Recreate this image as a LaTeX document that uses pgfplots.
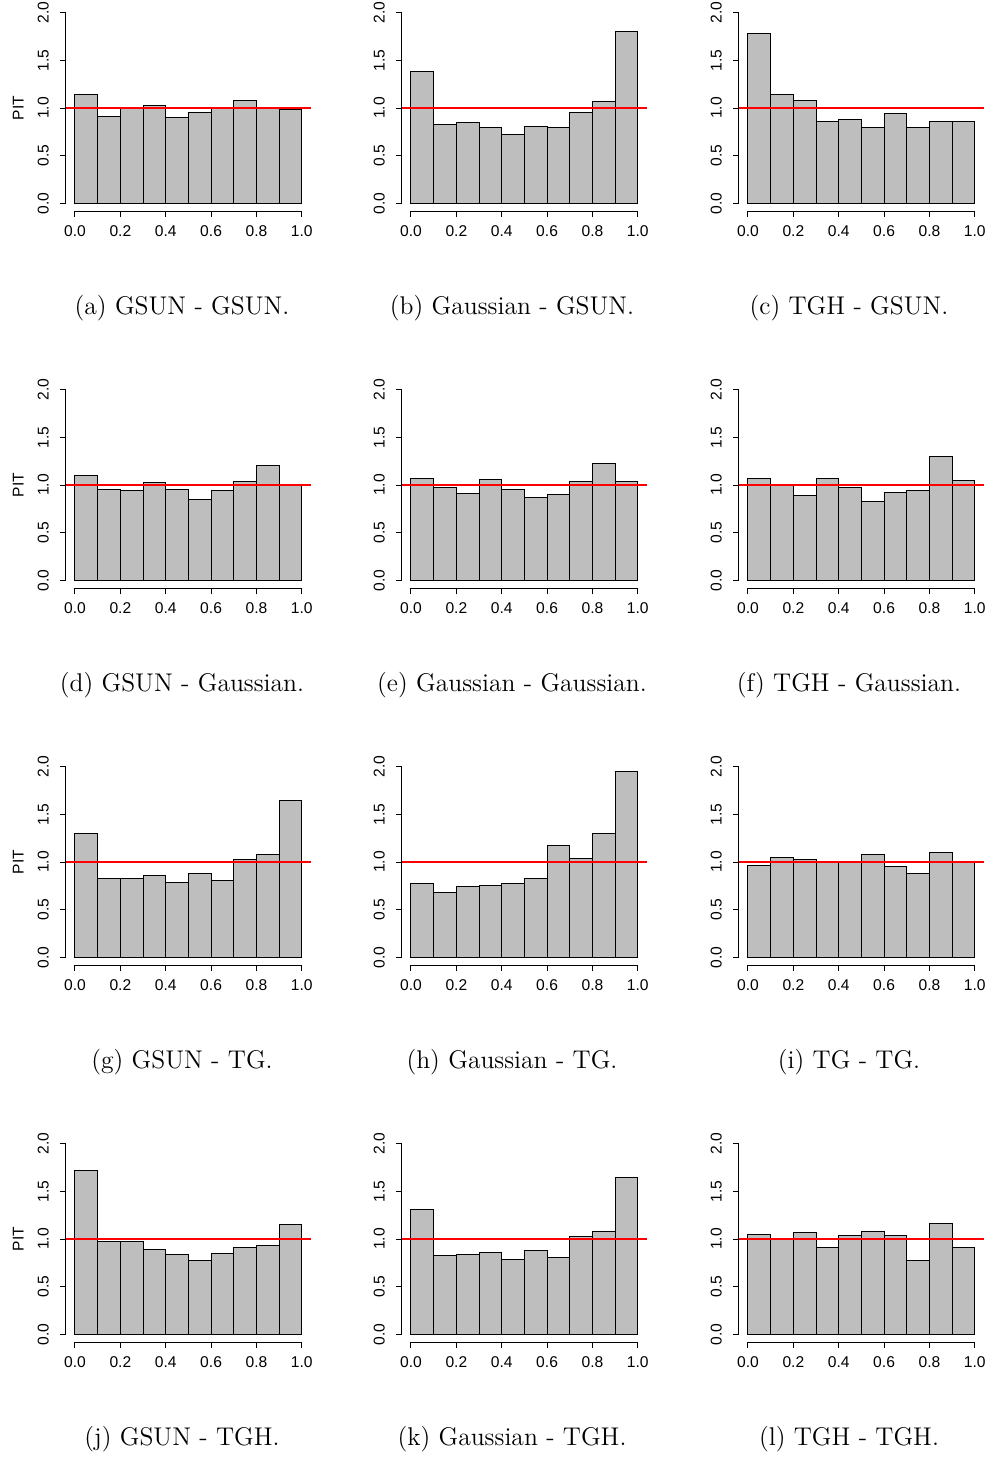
\documentclass[border=0pt]{standalone}
\usepackage{pgfplots}
\pgfplotsset{compat=1.18}
\usepackage{fontspec}
\newfontfamily\arial{Liberation Sans}
\definecolor{rgray}{RGB}{190,190,190}
\definecolor{rred}{RGB}{255,0,0}
\pgfplotsset{
  pitstyle/.style={
    scale only axis, width=122.5pt, height=103pt,
    anchor=south west, clip=false,
    xmin=-0.04, xmax=1.04, ymin=-0.08, ymax=2.08,
    axis x line*=bottom, axis y line*=left,
    axis line style={draw=none},
    xtick={0,0.2,0.4,0.6,0.8,1.0},
    ytick={0,0.5,1.0,1.5,2.0},
    tick align=outside, major tick length=3pt,
    tick style={black, line width=0.5pt},
    ticklabel style={font=\arial\fontsize{7.8}{9}\selectfont},
    yticklabel style={rotate=90, anchor=south},
    xticklabel shift=0.8pt, yticklabel shift=2pt,
    /pgf/number format/fixed,
    /pgf/number format/fixed zerofill,
    /pgf/number format/precision=1,
    /pgf/number format/assume math mode=true,
  }
}
\newcommand\bars[1]{%
  \addplot[ybar interval, fill=rgray, draw=black, line width=0.5pt] coordinates {#1};%
  \addplot[rred, line width=0.65pt] coordinates {(-0.04,1) (1.04,1)};%
  \draw[black, line width=0.5pt] (axis cs:0,-0.08) -- (axis cs:1,-0.08);%
  \draw[black, line width=0.5pt] (axis cs:-0.04,0) -- (axis cs:-0.04,2);%
}
\newcommand\pit{\node[rotate=90, font=\arial\fontsize{7.8}{9}\selectfont] at (axis cs:-0.25,1) {PIT};}
\begin{document}
\begin{tikzpicture}
\useasboundingbox (0,0) rectangle (494.5pt,-729pt);
% row 1
\begin{axis}[pitstyle, at={(32.95pt,-105.5pt)}]
\bars{(0,1.14) (0.1,0.91) (0.2,0.995) (0.3,1.03) (0.4,0.90) (0.5,0.953) (0.6,0.995) (0.7,1.075) (0.8,1.005) (0.9,0.988) (1.0,0.988)}
\pit
\end{axis}
\begin{axis}[pitstyle, at={(200.95pt,-105.5pt)}]
\bars{(0,1.386) (0.1,0.831) (0.2,0.848) (0.3,0.796) (0.4,0.723) (0.5,0.803) (0.6,0.796) (0.7,0.949) (0.8,1.068) (0.9,1.798) (1.0,1.798)}
\end{axis}
\begin{axis}[pitstyle, at={(369.45pt,-105.5pt)}]
\bars{(0,1.78) (0.1,1.138) (0.2,1.082) (0.3,0.855) (0.4,0.876) (0.5,0.80) (0.6,0.946) (0.7,0.796) (0.8,0.859) (0.9,0.859) (1.0,0.859)}
\end{axis}
% row 2
\begin{axis}[pitstyle, at={(32.95pt,-294pt)}]
\bars{(0,1.101) (0.1,0.958) (0.2,0.944) (0.3,1.028) (0.4,0.958) (0.5,0.853) (0.6,0.944) (0.7,1.035) (0.8,1.206) (0.9,1.0) (1.0,1.0)}
\pit
\end{axis}
\begin{axis}[pitstyle, at={(200.95pt,-294pt)}]
\bars{(0,1.066) (0.1,0.969) (0.2,0.913) (0.3,1.059) (0.4,0.958) (0.5,0.867) (0.6,0.902) (0.7,1.035) (0.8,1.227) (0.9,1.035) (1.0,1.035)}
\end{axis}
\begin{axis}[pitstyle, at={(369.45pt,-294pt)}]
\bars{(0,1.066) (0.1,0.99) (0.2,0.895) (0.3,1.066) (0.4,0.976) (0.5,0.825) (0.6,0.923) (0.7,0.941) (0.8,1.297) (0.9,1.045) (1.0,1.045)}
\end{axis}
% row 3
\begin{axis}[pitstyle, at={(32.95pt,-482.5pt)}]
\bars{(0,1.304) (0.1,0.822) (0.2,0.832) (0.3,0.860) (0.4,0.783) (0.5,0.878) (0.6,0.804) (0.7,1.024) (0.8,1.084) (0.9,1.640) (1.0,1.640)}
\pit
\end{axis}
\begin{axis}[pitstyle, at={(200.95pt,-482.5pt)}]
\bars{(0,0.776) (0.1,0.682) (0.2,0.741) (0.3,0.752) (0.4,0.776) (0.5,0.825) (0.6,1.175) (0.7,1.035) (0.8,1.304) (0.9,1.951) (1.0,1.951)}
\end{axis}
\begin{axis}[pitstyle, at={(369.45pt,-482.5pt)}]
\bars{(0,0.962) (0.1,1.049) (0.2,1.024) (0.3,0.990) (0.4,0.997) (0.5,1.077) (0.6,0.955) (0.7,0.881) (0.8,1.098) (0.9,1.0) (1.0,1.0)}
\end{axis}
% row 4
\begin{axis}[pitstyle, at={(32.95pt,-671pt)}]
\bars{(0,1.714) (0.1,0.977) (0.2,0.970) (0.3,0.894) (0.4,0.834) (0.5,0.775) (0.6,0.852) (0.7,0.914) (0.8,0.932) (0.9,1.152) (1.0,1.152)}
\pit
\end{axis}
\begin{axis}[pitstyle, at={(200.95pt,-671pt)}]
\bars{(0,1.305) (0.1,0.824) (0.2,0.834) (0.3,0.859) (0.4,0.782) (0.5,0.876) (0.6,0.803) (0.7,1.026) (0.8,1.082) (0.9,1.640) (1.0,1.640)}
\end{axis}
\begin{axis}[pitstyle, at={(369.45pt,-671pt)}]
\bars{(0,1.047) (0.1,0.995) (0.2,1.068) (0.3,0.911) (0.4,1.033) (0.5,1.082) (0.6,1.040) (0.7,0.771) (0.8,1.159) (0.9,0.914) (1.0,0.914)}
\end{axis}
% captions
\begin{scope}[every node/.style={anchor=base, font=\fontsize{12.8}{15}\selectfont}]
\node at (91pt,-157pt) {(a) GSUN - GSUN.};
\node at (256pt,-157pt) {(b) Gaussian - GSUN.};
\node at (424.5pt,-157pt) {(c) TGH - GSUN.};
\node at (91pt,-345.5pt) {(d) GSUN - Gaussian.};
\node at (256pt,-345.5pt) {(e) Gaussian - Gaussian.};
\node at (424.5pt,-345.5pt) {(f) TGH - Gaussian.};
\node at (91pt,-534pt) {(g) GSUN - TG.};
\node at (256pt,-534pt) {(h) Gaussian - TG.};
\node at (424.5pt,-534pt) {(i) TG - TG.};
\node at (91pt,-722.5pt) {(j) GSUN - TGH.};
\node at (256pt,-722.5pt) {(k) Gaussian - TGH.};
\node at (424.5pt,-722.5pt) {(l) TGH - TGH.};
\end{scope}
\end{tikzpicture}
\end{document}
